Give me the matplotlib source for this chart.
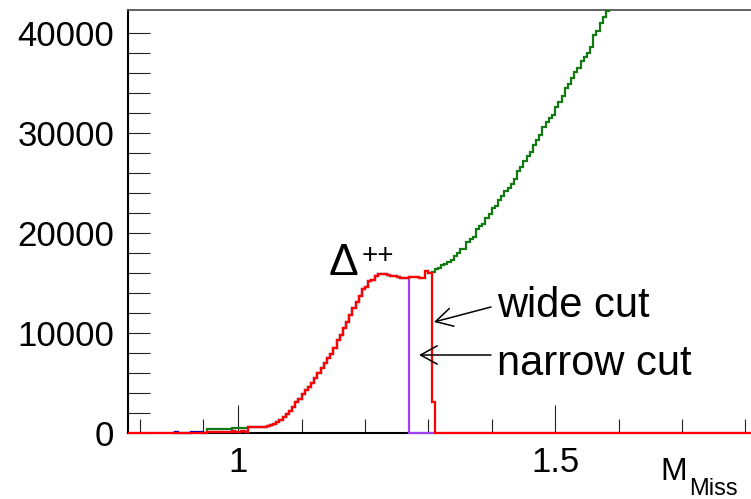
import numpy as np
import matplotlib
matplotlib.use("Agg")
import matplotlib.pyplot as plt

# ---------------- data ----------------
BIN = 0.005
X_LO, X_HI = 0.826, 1.809
Y_HI = 42300

# wide-cut selection (Delta++ region), bins start at 0.950
red_start = 0.950
red_counts = [
    150, 130, 150, 150, 140, 150, 150, 150, 160, 150, 150, 160, 150,          # 0.950-1.010
    560, 570, 570, 580, 590, 610,                                              # 1.015-1.040
    680, 780, 940, 1100, 1330, 1600, 1930, 2250, 2650, 3080, 3430,            # 1.045-1.095
    3860, 4260, 4650, 4970, 5520, 6000, 6550, 7050, 7500, 7870,               # 1.100-1.145
    8470, 9300, 9800, 10470, 11130, 11800, 12470, 13130, 13700, 14400,        # 1.150-1.195
    14600, 15200, 15350, 15750, 15870, 15870, 15870, 15850, 15730, 15730,     # 1.200-1.245
    15630, 15530, 15530, 15530, 15630, 15630, 15600, 15530, 15530, 16200,     # 1.250-1.295
    15970, 3100,                                                               # 1.300-1.305
]

# narrow-cut selection: same spectrum, cut at 1.270
narrow_cut = 1.270
n_narrow = int(round((narrow_cut - red_start) / BIN))
purple_counts = red_counts[:n_narrow] + [0] * (len(red_counts) - n_narrow)

# full missing-mass spectrum, bins start at 0.945
green_start = 0.945
green_low = [0,                                         # 0.945
             370, 370, 380, 370, 370, 380, 370, 370,    # 0.950-0.985
             470, 470, 480, 470, 470]                   # 0.990-1.010
green_high = [                                          # 1.305 onwards
    16130, 16370, 16530, 16800, 16950, 17130, 17300, 17700, 18030, 18370,
    18370, 19130, 19370, 19570, 20370, 20700, 20900, 21470, 21900, 22470,
    22700, 23300, 23700, 24230, 24500, 24900, 25370, 26230, 26630, 27230,
    27700, 28130, 28800, 29300, 29800, 30570, 31100, 31500, 31800, 32630,
    33130, 33700, 34470, 34900, 35470, 36130, 36470, 37230, 37630, 38000,
    38630, 39800, 40200, 41030, 41630, 42230, 43000, 43800,
]
green_counts = green_low + red_counts[13:71] + green_high

# low-mass background
blue_start = 0.895
blue_counts = [0, 130, 0, 0, 0, 0, 130, 130, 130, 130, 0]

x_major = [1.0, 1.5]
x_major_labels = ["1", "1.5"]
x_minor = [0.845, 0.945, 1.1, 1.2, 1.3, 1.4, 1.6, 1.7, 1.8]
y_major = [0, 10000, 20000, 30000, 40000]
y_minor = list(range(2000, 42000, 2000))


def edges_for(start, n):
    return np.round(start + BIN * np.arange(n + 1), 4)


# ---------------- figure ----------------
W, H = 751, 499
fig = plt.figure(figsize=(W / 100, H / 100), dpi=100)
plt.rcParams['font.family'] = ['Liberation Sans', 'DejaVu Sans']

ax = fig.add_axes([128 / W, 66 / H, (W - 128) / W, 423 / H])
ax.set_xlim(X_LO, X_HI)
ax.set_ylim(0, Y_HI)

# open-ended outline: the spectrum keeps rising past the top of the frame
green_edges = edges_for(green_start, len(green_counts))
ax.stairs(green_counts, green_edges, color="#137a13", lw=1.6, zorder=2.6,
          baseline=None)

blue_edges = edges_for(blue_start, len(blue_counts))
ax.stairs(blue_counts, blue_edges, color="#0000b0", lw=1.6, zorder=2.7, clip_on=False)

purple_edges = edges_for(red_start, len(purple_counts))
ax.stairs(purple_counts, purple_edges, color="#a040f0", lw=1.6, zorder=2.8, clip_on=False)

# red histogram padded with empty bins across the full axis
red_edges = edges_for(red_start, len(red_counts))
full_edges = np.concatenate([[X_LO], red_edges, [X_HI]])
full_counts = np.concatenate([[0], red_counts, [0]])
ax.stairs(full_counts, full_edges, color="#ff0000", lw=1.6, zorder=3, clip_on=False)

# axes styling
for side in ("left", "bottom"):
    ax.spines[side].set_linewidth(1.5)
    ax.spines[side].set_color("black")
ax.spines["top"].set_linewidth(1.3)
ax.spines["top"].set_color("#555555")
ax.spines["right"].set_visible(False)

ax.set_xticks(x_major)
ax.set_xticklabels(x_major_labels)
ax.set_xticks(x_minor, minor=True)
ax.set_yticks(y_major)
ax.set_yticklabels([str(v) for v in y_major])
ax.set_yticks(y_minor, minor=True)

ax.tick_params(axis="x", which="major", direction="in", length=20.5, width=0.8,
               color="#222222", labelsize=25, pad=9)
ax.tick_params(axis="x", which="minor", direction="in", length=10, width=0.8,
               color="#222222")
ax.tick_params(axis="y", which="both", direction="in", length=15.5, width=0.8,
               color="#222222", labelsize=25, pad=10)


def fp(px, py):
    """figure fraction from pixel position measured from the top-left."""
    return px / W, 1 - py / H


# axis title M_Miss
fig.text(*fp(660, 480), "M", fontsize=23, va="baseline", ha="left")
fig.text(*fp(689, 495), "Miss", fontsize=17, va="baseline", ha="left")

# Delta++ label
fig.text(*fp(329, 275), "\u0394", fontsize=32, va="baseline", ha="left")
fig.text(*fp(362, 263), "++", fontsize=20, va="baseline", ha="left")

# cut annotations
fig.text(*fp(497, 317), "wide cut", fontsize=30, va="baseline", ha="left")
fig.text(*fp(497, 375), "narrow cut", fontsize=30, va="baseline", ha="left")

arrow_kw = dict(arrowstyle="->,head_length=0.6,head_width=0.33", color="black",
                lw=1.1, shrinkA=0, shrinkB=0, mutation_scale=20)
ax.annotate("", xy=(434, H - 322), xytext=(491, H - 307),
            xycoords="figure pixels", textcoords="figure pixels",
            arrowprops=arrow_kw, annotation_clip=False)
ax.annotate("", xy=(419, H - 355), xytext=(491, H - 355),
            xycoords="figure pixels", textcoords="figure pixels",
            arrowprops=arrow_kw, annotation_clip=False)

fig.savefig("out.png", dpi=100)
